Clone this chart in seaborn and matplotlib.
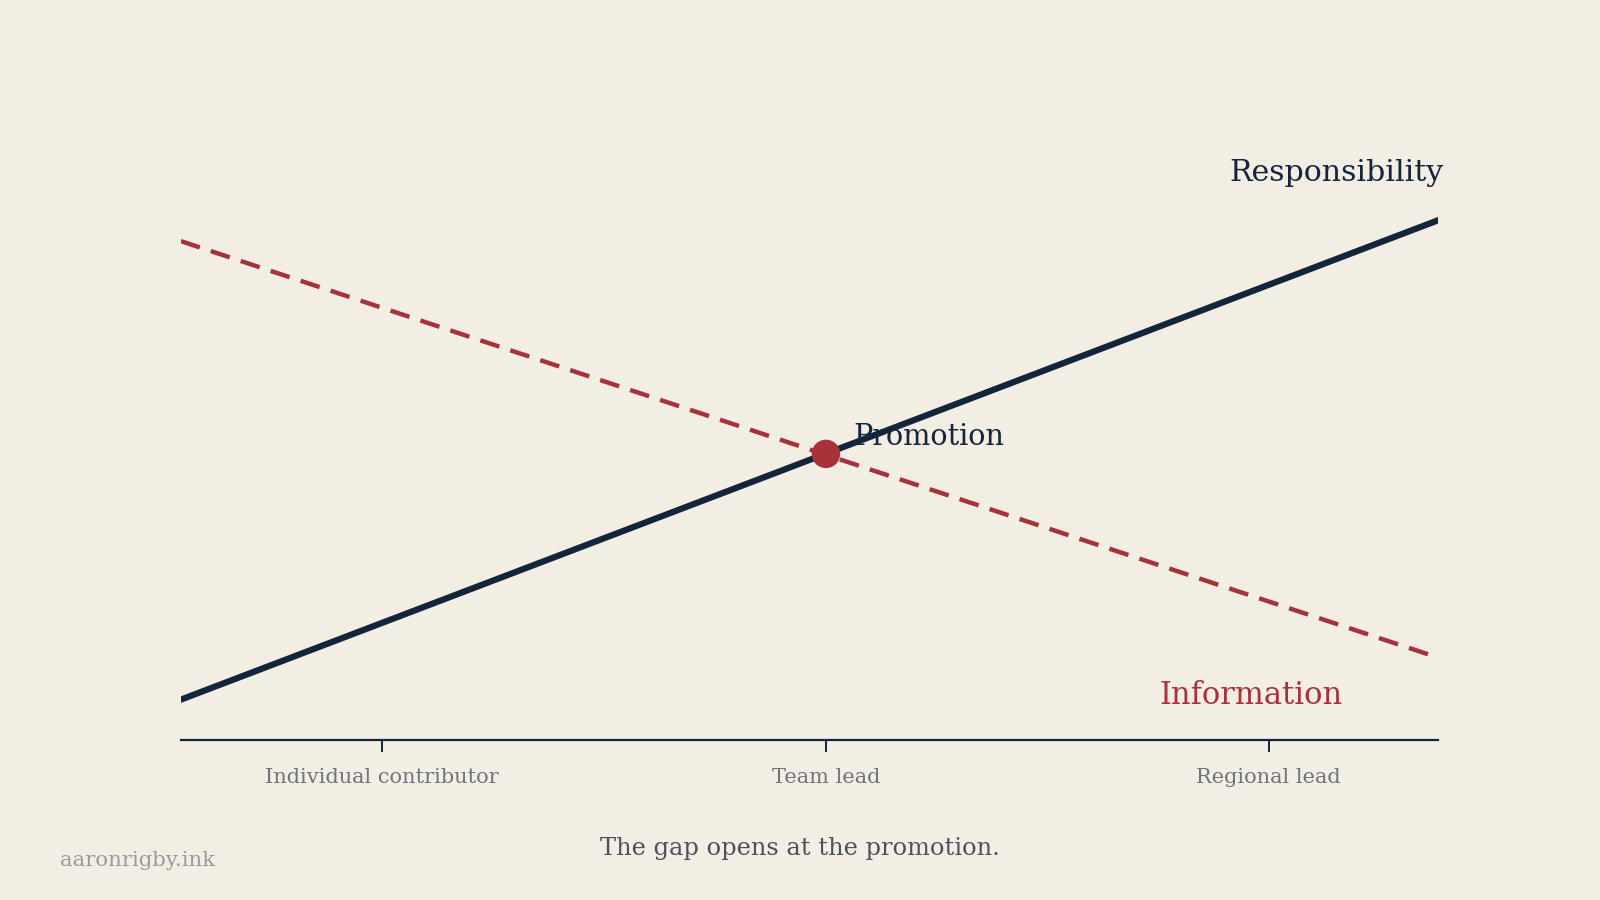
import pandas as pd
import matplotlib.pyplot as plt
import seaborn as sns

# career stage positions along the x axis (0 = start, 1 = end)
stage_x = [0.16, 0.513, 0.865]
stage_labels = ['Individual contributor', 'Team lead', 'Regional lead']

line_x = [0.0, 1.0]
responsibility = [0.10, 0.90]
information = [0.865, 0.17]

promo_x = [0.513]
promo_y = [0.51]

bg = '#f2eee4'
navy = '#14243a'
red = '#a8323a'

sns.set_theme(style='white', rc={'axes.facecolor': bg, 'figure.facecolor': bg})
plt.rcParams['font.family'] = ['DejaVu Serif']

df = pd.DataFrame({
    'x': line_x + line_x,
    'y': responsibility + information,
    'series': ['Responsibility'] * 2 + ['Information'] * 2,
})

fig = plt.figure(figsize=(16, 9), dpi=100)
ax = fig.add_axes([0.113, 0.178, 0.786, 0.644])

sns.lineplot(data=df, x='x', y='y', hue='series', style='series',
             palette={'Responsibility': navy, 'Information': red},
             dashes={'Responsibility': '', 'Information': (4.5, 2.6)},
             linewidth=4.5, legend=False, ax=ax)
ax.lines[0].set_linewidth(4.5)
ax.lines[1].set_linewidth(3.2)
ax.lines[1].set_dashes((4.5, 2.6))

sns.scatterplot(x=promo_x, y=promo_y, s=420, color=red, edgecolor='none', ax=ax, zorder=5)

ax.set_xlim(0, 1)
ax.set_ylim(0.033, 1.0)
sns.despine(ax=ax, left=True)
ax.spines['bottom'].set_color(navy)
ax.spines['bottom'].set_linewidth(1.6)
ax.set_yticks([])
ax.set_xticks(stage_x)
ax.set_xticklabels(stage_labels)
ax.tick_params(axis='x', direction='out', length=8.5, width=1.4, color=navy,
               labelsize=15, labelcolor='#6e737c', pad=12, bottom=True)
ax.set_xlabel('')
ax.set_ylabel('')

ax.text(1.004, 0.978, 'Responsibility', ha='right', va='center', fontsize=21.6, color=navy)
ax.text(0.924, 0.107, 'Information', ha='right', va='center', fontsize=22, color=red)
ax.text(0.535, 0.538, 'Promotion', ha='left', va='center', fontsize=20.7, color=navy)

fig.text(0.5, 1 - 849 / 900, 'The gap opens at the promotion.', ha='center', va='center',
         fontsize=17.4, color='#4a505c')
fig.text(60 / 1600, 1 - 861 / 900, 'aaronrigby.ink', ha='left', va='center',
         fontsize=15.3, color='#9a9a9a')

fig.savefig('out.png', dpi=100, facecolor=bg)
